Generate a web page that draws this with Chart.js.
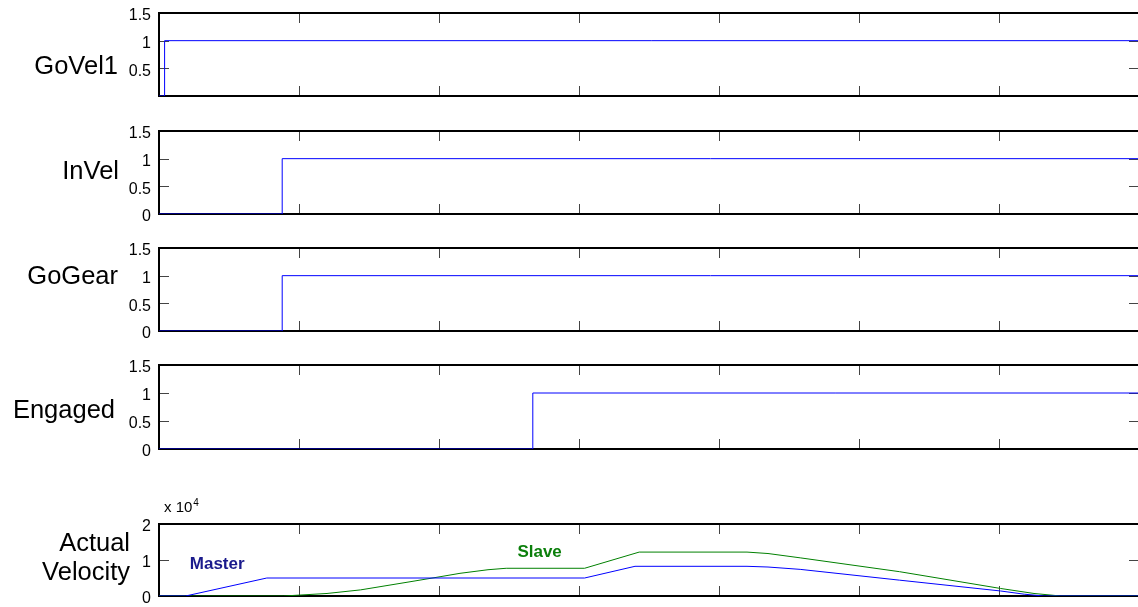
<!DOCTYPE html>
<html>
<head>
<meta charset="utf-8">
<script src="https://cdn.jsdelivr.net/npm/chart.js@4.4.1/dist/chart.umd.min.js"></script>
<style>
  html, body { margin: 0; padding: 0; background: #fff; overflow: hidden; }
  #wrap { position: relative; width: 1138px; height: 607px; overflow: hidden; background: #fff; }
  #wrap canvas { position: absolute; left: 0; }
</style>
</head>
<body>
<div id="wrap">
  <canvas id="goVel1Chart"></canvas>
  <canvas id="inVelChart"></canvas>
  <canvas id="goGearChart"></canvas>
  <canvas id="engagedChart"></canvas>
  <canvas id="velocityChart"></canvas>
</div>
<script>
// --- 1. Data ---
const xTicks = [0, 1, 2, 3, 4, 5, 6, 7];

const yTicksDigital = [0, 0.5, 1, 1.5];
const yLabelsDigital = ['0', '0.5', '1', '1.5'];
const yLabelsGoVel1 = ['', '0.5', '1', '1.5'];
const yTicksVelocity = [0, 10000, 20000];
const yLabelsVelocity = ['0', '1', '2'];

const goVel1Time = [0, 0.04, 7];
const goVel1Value = [0, 1, 1];

const inVelTime = [0, 0.88, 7];
const inVelValue = [0, 1, 1];

const goGearTime = [0, 0.88, 7];
const goGearValue = [0, 1, 1];

const engagedTime = [0, 2.67, 7];
const engagedValue = [0, 1, 1];

const masterTime = [0, 0.19, 0.77, 3.04, 3.40, 4.20, 4.35, 4.58, 5.29, 6.01, 6.18, 6.32, 7];
const masterVel  = [0, 0, 5000, 5000, 8250, 8250, 8050, 7400, 4400, 1400, 500, 0, 0];

const slaveTime = [0, 0.89, 1.20, 1.44, 1.80, 2.00, 2.15, 2.35, 2.48, 3.04, 3.43, 4.20, 4.35, 4.58, 5.29, 6.01, 6.25, 6.44, 7];
const slaveVel  = [0, 0, 700, 1700, 4000, 5300, 6300, 7300, 7700, 7700, 12200, 12200, 11800, 10600, 6750, 2100, 700, 0, 0];

const annoText = ['Master', 'Slave'];
const annoX = [0.22, 2.56];
const annoY = [7500, 10800];
const annoColor = ['#1a1a8c', '#0b7f0b'];

const FONT = "'Liberation Sans', Arial, sans-serif";
Chart.defaults.font.family = FONT;
Chart.defaults.color = '#000';

// --- 2. Frame, inward ticks, labels ---
const matlabFrame = {
    id: 'matlabFrame',
    beforeDatasetsDraw(chart) {
        const { ctx, chartArea: a, scales } = chart;
        const len = 10;
        ctx.save();
        ctx.strokeStyle = '#444';
        ctx.lineWidth = 1;
        ctx.beginPath();
        xTicks.forEach(v => {
            const px = Math.round(scales.x.getPixelForValue(v)) + 0.5;
            ctx.moveTo(px, a.top); ctx.lineTo(px, a.top + len);
            ctx.moveTo(px, a.bottom); ctx.lineTo(px, a.bottom - len);
        });
        scales.y.ticks.forEach(t => {
            const py = Math.round(scales.y.getPixelForValue(t.value)) + 0.5;
            ctx.moveTo(a.left, py); ctx.lineTo(a.left + len, py);
            ctx.moveTo(a.right, py); ctx.lineTo(a.right - len, py);
        });
        ctx.stroke();
        ctx.strokeStyle = '#000';
        ctx.lineWidth = 2;
        ctx.strokeRect(a.left, a.top, a.right - a.left, a.bottom - a.top);
        ctx.restore();
    },
    afterDatasetsDraw(chart, args, opts) {
        const { ctx, chartArea: a, scales } = chart;
        ctx.save();
        ctx.fillStyle = '#000';
        ctx.textAlign = 'right';
        ctx.textBaseline = 'alphabetic';
        ctx.font = `25.5px ${FONT}`;
        opts.title.forEach((line, i) => {
            ctx.fillText(line, opts.titleRight, a.top + opts.titleBase[i]);
        });
        if (opts.annotate) {
            ctx.textAlign = 'left';
            ctx.font = `bold 17px ${FONT}`;
            annoText.forEach((txt, i) => {
                ctx.fillStyle = annoColor[i];
                ctx.fillText(txt, scales.x.getPixelForValue(annoX[i]), scales.y.getPixelForValue(annoY[i]));
            });
            ctx.fillStyle = '#000';
            ctx.font = `15px ${FONT}`;
            ctx.fillText('x 10', 164, a.top - 12);
            const w = ctx.measureText('x 10').width;
            ctx.font = `10px ${FONT}`;
            ctx.fillText('4', 164 + w + 1, a.top - 18);
        }
        ctx.restore();
    }
};

// --- 3. Panels ---
function makePanel(cfg) {
    const canvas = document.getElementById(cfg.id);
    canvas.width = 1139;
    canvas.height = cfg.height + cfg.padTop + cfg.padBottom;
    canvas.style.top = (cfg.top - cfg.padTop) + 'px';
    return new Chart(canvas, {
        type: 'line',
        data: {
            datasets: cfg.series.map(s => ({
                data: s.t.map((t, i) => ({ x: t, y: s.v[i] })),
                borderColor: s.color,
                borderWidth: 1,
                pointRadius: 0,
                stepped: s.stepped,
                tension: 0,
                fill: false
            }))
        },
        options: {
            responsive: false,
            animation: false,
            devicePixelRatio: 1,
            layout: { padding: { top: cfg.padTop, bottom: cfg.padBottom, left: 0, right: 0 } },
            plugins: {
                legend: { display: false },
                tooltip: { enabled: false },
                matlabFrame: { title: cfg.title, titleRight: cfg.titleRight, titleBase: cfg.titleBase, annotate: !!cfg.annotate }
            },
            scales: {
                x: { type: 'linear', min: 0, max: 7, display: false },
                y: {
                    min: cfg.yTicks[0],
                    max: cfg.yTicks[cfg.yTicks.length - 1],
                    afterFit: s => { s.width = 159; s.paddingTop = 0; s.paddingBottom = 0; },
                    afterBuildTicks: s => { s.ticks = cfg.yTicks.map(v => ({ value: v })); },
                    grid: { display: false, drawTicks: false },
                    border: { display: false },
                    ticks: { padding: 8, labelOffset: 3, color: '#000', font: { size: 16 }, callback: (v, i) => cfg.yLabels[i] }
                }
            }
        },
        plugins: [matlabFrame]
    });
}

makePanel({ id: 'goVel1Chart', top: 13, height: 83, padTop: 12, padBottom: 12,
    yTicks: yTicksDigital, yLabels: yLabelsGoVel1, title: ['GoVel1'], titleRight: 118, titleBase: [61],
    series: [{ t: goVel1Time, v: goVel1Value, color: '#0000ff', stepped: 'before' }] });

makePanel({ id: 'inVelChart', top: 131, height: 83, padTop: 12, padBottom: 12,
    yTicks: yTicksDigital, yLabels: yLabelsDigital, title: ['InVel'], titleRight: 119, titleBase: [48],
    series: [{ t: inVelTime, v: inVelValue, color: '#0000ff', stepped: 'before' }] });

makePanel({ id: 'goGearChart', top: 248, height: 83, padTop: 12, padBottom: 12,
    yTicks: yTicksDigital, yLabels: yLabelsDigital, title: ['GoGear'], titleRight: 118, titleBase: [36],
    series: [{ t: goGearTime, v: goGearValue, color: '#0000ff', stepped: 'before' }] });

makePanel({ id: 'engagedChart', top: 365, height: 84, padTop: 12, padBottom: 12,
    yTicks: yTicksDigital, yLabels: yLabelsDigital, title: ['Engaged'], titleRight: 115, titleBase: [53],
    series: [{ t: engagedTime, v: engagedValue, color: '#0000ff', stepped: 'before' }] });

makePanel({ id: 'velocityChart', top: 524, height: 72, padTop: 30, padBottom: 10,
    yTicks: yTicksVelocity, yLabels: yLabelsVelocity, title: ['Actual', 'Velocity'], titleRight: 130, titleBase: [27, 56],
    annotate: true,
    series: [
        { t: masterTime, v: masterVel, color: '#0000ff', stepped: false },
        { t: slaveTime, v: slaveVel, color: '#008000', stepped: false }
    ] });
</script>
</body>
</html>
